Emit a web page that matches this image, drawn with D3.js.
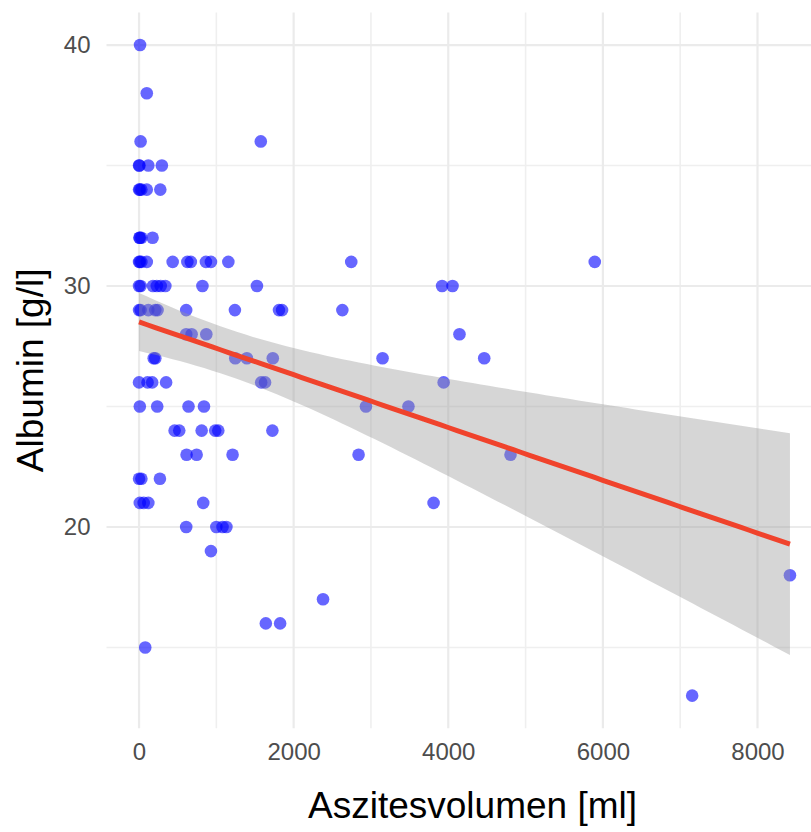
<!DOCTYPE html>
<html>
<head>
<meta charset="utf-8">
<script src="https://cdn.jsdelivr.net/npm/d3@7"></script>
<style>
  html, body { margin: 0; padding: 0; background: #ffffff; }
  svg { display: block; font-family: "Liberation Sans", Arial, Helvetica, sans-serif; }
</style>
</head>
<body>
<svg id="chart" width="811" height="832"></svg>
<script>
// ---- data (overlapping points near 0 counted from darker blobs) ----
const aszitesvolumen = [
  13,
  100,
  20, 1575,
  5, 0, 120, 295,
  0, 10, 30, 100, 275,
  5, 10, 30, 175,
  0, 10, 30, 100, 435, 625, 670, 865, 930, 1155, 2745, 5895,
  0, 20, 180, 230, 280, 340, 820, 1525, 3920, 4055,
  0, 20, 120, 210, 240, 610, 1240, 1810, 1850, 2630,
  610, 680, 870, 4145,
  190, 210, 1245, 1395, 1730, 3150, 4465,
  0, 110, 170, 350, 1580, 1630, 3940,
  10, 235, 640, 840, 2935, 3485,
  460, 520, 810, 985, 1025, 1725,
  615, 745, 1210, 2840, 4805,
  0, 30, 270,
  10, 60, 120, 830, 3810,
  610, 1000, 1080, 1130,
  930,
  8420,
  2380,
  1640, 1825,
  80,
  7155
];
const albumin = [
  40,
  38,
  36, 36,
  35, 35, 35, 35,
  34, 34, 34, 34, 34,
  32, 32, 32, 32,
  31, 31, 31, 31, 31, 31, 31, 31, 31, 31, 31, 31,
  30, 30, 30, 30, 30, 30, 30, 30, 30, 30,
  29, 29, 29, 29, 29, 29, 29, 29, 29, 29,
  28, 28, 28, 28,
  27, 27, 27, 27, 27, 27, 27,
  26, 26, 26, 26, 26, 26, 26,
  25, 25, 25, 25, 25, 25,
  24, 24, 24, 24, 24, 24,
  23, 23, 23, 23, 23,
  22, 22, 22,
  21, 21, 21, 21, 21,
  20, 20, 20, 20,
  19,
  18,
  17,
  16, 16,
  15,
  13
];
const xTicks = [0, 2000, 4000, 6000, 8000];
const xMinorTicks = [1000, 3000, 5000, 7000];
const yTicks = [20, 30, 40];
const yMinorTicks = [15, 25, 35];
const xTitle = "Aszitesvolumen [ml]";
const yTitle = "Albumin [g/l]";

// ---- layout ----
const svg = d3.select("#chart");
const panel = { left: 106.5, right: 822.5, top: 12.5, bottom: 728.2 };

const xExt = d3.extent(aszitesvolumen);
const yExt = d3.extent(albumin);
const xPad = (xExt[1] - xExt[0]) * 0.05;
const yPad = (yExt[1] - yExt[0]) * 0.05;

const x = d3.scaleLinear().domain([xExt[0] - xPad, xExt[1] + xPad]).range([panel.left, panel.right]);
const y = d3.scaleLinear().domain([yExt[0] - yPad, yExt[1] + yPad]).range([panel.bottom, panel.top]);

// ---- grid ----
const grid = svg.append("g");
grid.selectAll(".vmin").data(xMinorTicks).join("line")
  .attr("x1", d => x(d)).attr("x2", d => x(d))
  .attr("y1", panel.top).attr("y2", panel.bottom)
  .attr("stroke", "#efefef").attr("stroke-width", 1.6);
grid.selectAll(".hmin").data(yMinorTicks).join("line")
  .attr("y1", d => y(d)).attr("y2", d => y(d))
  .attr("x1", panel.left).attr("x2", panel.right)
  .attr("stroke", "#efefef").attr("stroke-width", 1.6);
grid.selectAll(".vmaj").data(xTicks).join("line")
  .attr("x1", d => x(d)).attr("x2", d => x(d))
  .attr("y1", panel.top).attr("y2", panel.bottom)
  .attr("stroke", "#ebebeb").attr("stroke-width", 2.2);
grid.selectAll(".hmaj").data(yTicks).join("line")
  .attr("y1", d => y(d)).attr("y2", d => y(d))
  .attr("x1", panel.left).attr("x2", panel.right)
  .attr("stroke", "#ebebeb").attr("stroke-width", 2.2);

// ---- points ----
const pts = aszitesvolumen.map((v, i) => ({ x: v, y: albumin[i] }));
svg.append("g").selectAll("circle").data(pts).join("circle")
  .attr("cx", d => x(d.x)).attr("cy", d => y(d.y)).attr("r", 6.3)
  .attr("fill", "#0000ff").attr("fill-opacity", 0.6);

// ---- linear fit with 95% CI ----
const n = pts.length;
const mx = d3.mean(pts, d => d.x), my = d3.mean(pts, d => d.y);
const sxx = d3.sum(pts, d => (d.x - mx) ** 2);
const sxy = d3.sum(pts, d => (d.x - mx) * (d.y - my));
const b1 = sxy / sxx, b0 = my - b1 * mx;
const sse = d3.sum(pts, d => (d.y - (b0 + b1 * d.x)) ** 2);
const s = Math.sqrt(sse / (n - 2));
const df = n - 2, z = 1.959964;
const tcrit = z + (z ** 3 + z) / (4 * df) + (5 * z ** 5 + 16 * z ** 3 + 3 * z) / (96 * df * df);
const fit = d3.range(0, 81).map(i => {
  const xv = xExt[0] + (xExt[1] - xExt[0]) * i / 80;
  const yv = b0 + b1 * xv;
  const se = s * Math.sqrt(1 / n + (xv - mx) ** 2 / sxx);
  return { x: xv, y: yv, lo: yv - tcrit * se, hi: yv + tcrit * se };
});

svg.append("path").datum(fit)
  .attr("d", d3.area().x(d => x(d.x)).y0(d => y(d.lo)).y1(d => y(d.hi)))
  .attr("fill", "#999999").attr("fill-opacity", 0.4);
svg.append("path").datum(fit)
  .attr("d", d3.line().x(d => x(d.x)).y(d => y(d.y)))
  .attr("fill", "none").attr("stroke", "#f0432c").attr("stroke-width", 5);

// ---- axes (labels only, theme_minimal) ----
const xAxis = svg.append("g").attr("transform", `translate(0,${panel.bottom})`)
  .call(d3.axisBottom(x).tickValues(xTicks).tickSize(0).tickPadding(10).tickFormat(d3.format("d")));
xAxis.select(".domain").remove();
xAxis.selectAll("text").attr("font-size", 24).attr("fill", "#4d4d4d")
  .attr("font-family", "Liberation Sans, Arial, sans-serif").attr("dy", "0.9em");

const yAxis = svg.append("g").attr("transform", `translate(${panel.left},0)`)
  .call(d3.axisLeft(y).tickValues(yTicks).tickSize(0).tickPadding(16).tickFormat(d3.format("d")));
yAxis.select(".domain").remove();
yAxis.selectAll("text").attr("font-size", 24).attr("fill", "#4d4d4d")
  .attr("font-family", "Liberation Sans, Arial, sans-serif");

svg.append("text")
  .attr("x", (panel.left + panel.right) / 2 + 8).attr("y", 818)
  .attr("text-anchor", "middle").attr("font-size", 37).attr("fill", "#000")
  .text(xTitle);
svg.append("text")
  .attr("transform", `translate(43,${(panel.top + panel.bottom) / 2}) rotate(-90)`)
  .attr("text-anchor", "middle").attr("font-size", 37).attr("fill", "#000")
  .text(yTitle);
</script>
</body>
</html>
